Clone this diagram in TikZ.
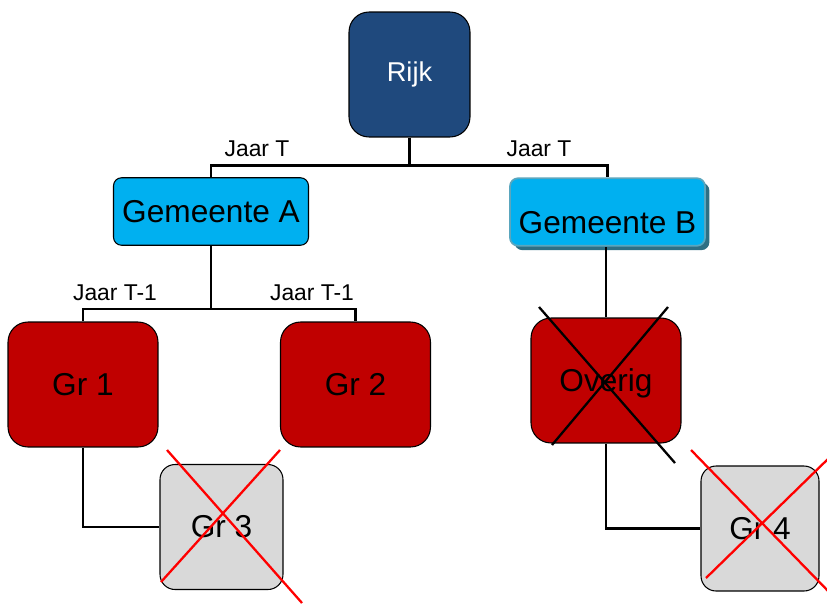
\documentclass[tikz,border=0pt]{standalone}
\usepackage{fontspec}
\setmainfont{Liberation Sans}
\usetikzlibrary{shadows}
\definecolor{rijkblue}{HTML}{1F497D}
\definecolor{gemblue}{HTML}{00B0F0}
\definecolor{grred}{HTML}{C00000}
\definecolor{grgray}{HTML}{D9D9D9}
\definecolor{gemborder}{HTML}{5AA6BE}
\definecolor{gemshadow}{HTML}{2E6F84}

\begin{document}
\begin{tikzpicture}[x=0.02cm, y=-0.02cm,
        box/.style={draw=black, line width=0.6pt, inner sep=0pt, font=\fontsize{18}{21}\selectfont},
        gembox/.style={box, fill=gemblue, minimum width=3.9cm, minimum height=1.35cm, rounded corners=0.16cm},
        grbox/.style={box, fill=grred, minimum width=3cm, minimum height=2.5cm, rounded corners=0.4cm},
        subbox/.style={box, fill=grgray, minimum height=2.5cm, rounded corners=0.3cm},
        link/.style={line width=1.3pt},
        jaar/.style={font=\fontsize{13}{15}\selectfont},
        kruis/.style={line width=1.3pt, red}
    ]
    \useasboundingbox (0,0) rectangle (827,605);

    \node[box, fill=rijkblue, text=white, minimum width=2.42cm, minimum height=2.5cm,
        rounded corners=0.4cm, font=\fontsize{15.5}{18}\selectfont] (rijk) at (409.5,74.5) {Rijk};
    \node[gembox] (gemA) at (211,211.5) {Gemeente A};
    \node[gembox, draw=gemborder, line width=1pt, text height=25pt, text depth=0pt,
        drop shadow={shadow xshift=2.5pt, shadow yshift=-2.5pt, fill=gemshadow, opacity=1}]
        (gemB) at (607.5,212) {Gemeente B};
    \node[grbox] (gr1) at (83,384.5) {Gr 1};
    \node[grbox] (gr2) at (355.5,384.5) {Gr 2};
    \node[grbox, text depth=0pt] (overig) at (606,380.5) {Overig};
    \node[subbox, minimum width=2.46cm] (gr3) at (221.5,527) {Gr 3};
    \node[subbox, minimum width=2.36cm] (gr4) at (760,528.5) {Gr 4};

    % takken
    \draw[link] (rijk.south) -- ++(0,28) coordinate (splitT) -| (gemA.north);
    \draw[link] (splitT) -| (gemB.north);
    \draw[link] (gemA.south) -- ++(0,63) coordinate (splitA) -| (gr1.north);
    \draw[link] (splitA) -| (gr2.north);
    \draw[link] (overig.north) -- (overig.north |- gemB.south);
    \draw[link] (gr1.south) |- (gr3.west);
    \draw[link] (overig.south) |- (gr4.west);

    \node[jaar] (jaarA) at (257,149) {Jaar T};
    \node[jaar] (jaarB) at (539,149) {Jaar T};
    \node[jaar] (jaar1) at (115,293) {Jaar T-1};
    \node[jaar] (jaar2) at (312,293) {Jaar T-1};

    % doorgestreept
    \draw[kruis, black] (539,307) -- (675,463);
    \draw[kruis, black] (668,307) -- (552,445);
    \draw[kruis] (167,450) -- (302,603);
    \draw[kruis] (280,450) -- (161,582);
    \draw[kruis] (691,450) -- (830,593);
    \draw[kruis] (830,457) -- (706,578);
\end{tikzpicture}
\end{document}
